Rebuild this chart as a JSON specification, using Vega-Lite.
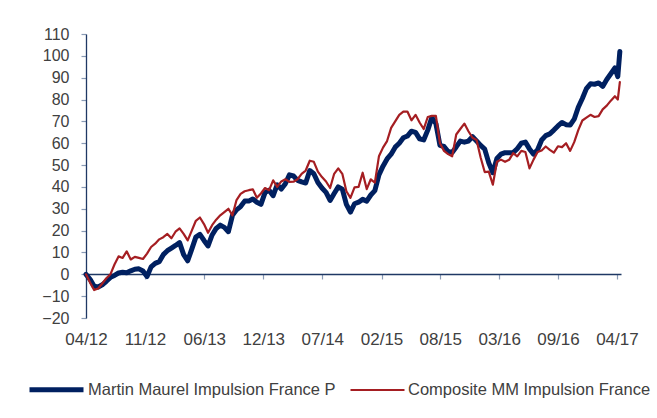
{
  "$schema": "https://vega.github.io/schema/vega-lite/v6.json",
  "width": 535,
  "height": 284,
  "autosize": "none",
  "padding": {"left": 86, "top": 34, "right": 36, "bottom": 100},
  "background": "white",
  "config": {"view": {"stroke": null}, "font": "Liberation Sans"},
  "data": {"values": [
    {"date":"2012-04-20","P":0,"C":0},
    {"date":"2012-05-04","P":-2.3,"C":-3.8},
    {"date":"2012-05-18","P":-5.5,"C":-7.2},
    {"date":"2012-06-01","P":-5.8,"C":-6.5},
    {"date":"2012-06-15","P":-4.8,"C":-4.2},
    {"date":"2012-06-29","P":-3.2,"C":-1.8},
    {"date":"2012-07-13","P":-1.4,"C":0},
    {"date":"2012-07-27","P":-0.5,"C":4.5},
    {"date":"2012-08-10","P":0.6,"C":8.2},
    {"date":"2012-08-24","P":0.9,"C":7.5},
    {"date":"2012-09-07","P":0.7,"C":10.5},
    {"date":"2012-09-21","P":1.6,"C":6.8},
    {"date":"2012-10-05","P":2.3,"C":8.0},
    {"date":"2012-10-19","P":2.5,"C":7.5},
    {"date":"2012-11-02","P":1.5,"C":7.0},
    {"date":"2012-11-16","P":-1.0,"C":9.5},
    {"date":"2012-11-30","P":3.4,"C":12.5},
    {"date":"2012-12-14","P":5,"C":14},
    {"date":"2012-12-28","P":5.8,"C":16},
    {"date":"2013-01-11","P":9,"C":17},
    {"date":"2013-01-25","P":10.8,"C":18.5},
    {"date":"2013-02-08","P":12,"C":16.5},
    {"date":"2013-02-22","P":13.2,"C":19.5},
    {"date":"2013-03-08","P":14.5,"C":21},
    {"date":"2013-03-22","P":9,"C":18.5},
    {"date":"2013-04-05","P":6.2,"C":15.5},
    {"date":"2013-04-19","P":11.5,"C":20},
    {"date":"2013-05-03","P":17,"C":24.5},
    {"date":"2013-05-17","P":18.3,"C":26},
    {"date":"2013-05-31","P":15.5,"C":23},
    {"date":"2013-06-14","P":13,"C":19},
    {"date":"2013-06-28","P":18,"C":22.5},
    {"date":"2013-07-12","P":21,"C":25},
    {"date":"2013-07-26","P":22.5,"C":27},
    {"date":"2013-08-09","P":21.5,"C":28.5},
    {"date":"2013-08-23","P":19.5,"C":30},
    {"date":"2013-09-06","P":27,"C":27},
    {"date":"2013-09-20","P":29.5,"C":34},
    {"date":"2013-10-04","P":31,"C":36.8},
    {"date":"2013-10-18","P":33.5,"C":38},
    {"date":"2013-11-01","P":33.5,"C":38.5},
    {"date":"2013-11-15","P":34.5,"C":38.9},
    {"date":"2013-11-29","P":33,"C":35},
    {"date":"2013-12-13","P":32,"C":37},
    {"date":"2013-12-27","P":37.4,"C":39.5},
    {"date":"2014-01-10","P":38.5,"C":38.5},
    {"date":"2014-01-24","P":36,"C":43},
    {"date":"2014-02-07","P":41,"C":40},
    {"date":"2014-02-21","P":39,"C":42.5},
    {"date":"2014-03-07","P":41.5,"C":43.5},
    {"date":"2014-03-21","P":45.5,"C":42.3},
    {"date":"2014-04-04","P":45,"C":42.4},
    {"date":"2014-04-18","P":43,"C":43.5},
    {"date":"2014-05-02","P":42.3,"C":46},
    {"date":"2014-05-16","P":41.8,"C":47.5},
    {"date":"2014-05-30","P":47.5,"C":52},
    {"date":"2014-06-13","P":46,"C":51.5},
    {"date":"2014-06-27","P":42,"C":47},
    {"date":"2014-07-11","P":39.5,"C":44.5},
    {"date":"2014-07-25","P":37.5,"C":42.5},
    {"date":"2014-08-08","P":33.8,"C":39.5},
    {"date":"2014-08-22","P":37,"C":46},
    {"date":"2014-09-05","P":40,"C":48.5},
    {"date":"2014-09-19","P":39,"C":46},
    {"date":"2014-10-03","P":32,"C":38},
    {"date":"2014-10-17","P":28.5,"C":35},
    {"date":"2014-10-31","P":32.3,"C":39.8},
    {"date":"2014-11-14","P":33,"C":40},
    {"date":"2014-11-28","P":34.3,"C":46.5},
    {"date":"2014-12-12","P":33.5,"C":39},
    {"date":"2014-12-26","P":36.3,"C":43.5},
    {"date":"2015-01-09","P":38.3,"C":42},
    {"date":"2015-01-23","P":45.5,"C":54},
    {"date":"2015-02-06","P":49.5,"C":58},
    {"date":"2015-02-20","P":52.8,"C":61},
    {"date":"2015-03-06","P":55,"C":67},
    {"date":"2015-03-20","P":58.2,"C":70},
    {"date":"2015-04-03","P":60,"C":73},
    {"date":"2015-04-17","P":62.5,"C":74.5},
    {"date":"2015-05-01","P":63.3,"C":74.5},
    {"date":"2015-05-15","P":65.5,"C":70.5},
    {"date":"2015-05-29","P":65,"C":73},
    {"date":"2015-06-12","P":62,"C":69.5},
    {"date":"2015-06-26","P":61.5,"C":66.5},
    {"date":"2015-07-10","P":66,"C":72},
    {"date":"2015-07-24","P":71.8,"C":72.5},
    {"date":"2015-08-07","P":69,"C":72.5},
    {"date":"2015-08-21","P":59,"C":60},
    {"date":"2015-09-04","P":58.5,"C":56.5},
    {"date":"2015-09-18","P":56.2,"C":55},
    {"date":"2015-10-02","P":55.8,"C":54},
    {"date":"2015-10-16","P":58.3,"C":64},
    {"date":"2015-10-30","P":61,"C":66.5},
    {"date":"2015-11-13","P":60.5,"C":69},
    {"date":"2015-11-27","P":61,"C":65.5},
    {"date":"2015-12-11","P":63,"C":62.5},
    {"date":"2015-12-25","P":61,"C":61.5},
    {"date":"2016-01-08","P":59,"C":53.5},
    {"date":"2016-01-22","P":57.3,"C":46.8},
    {"date":"2016-02-05","P":51,"C":47},
    {"date":"2016-02-19","P":46.5,"C":41},
    {"date":"2016-03-04","P":53,"C":51.5},
    {"date":"2016-03-18","P":55,"C":52.5},
    {"date":"2016-04-01","P":55.7,"C":51.5},
    {"date":"2016-04-15","P":55.7,"C":52.4},
    {"date":"2016-04-29","P":55.7,"C":55.5},
    {"date":"2016-05-13","P":57.5,"C":54},
    {"date":"2016-05-27","P":60,"C":56.5},
    {"date":"2016-06-10","P":60.5,"C":56},
    {"date":"2016-06-24","P":57.4,"C":48.5},
    {"date":"2016-07-08","P":55,"C":52.5},
    {"date":"2016-07-22","P":57,"C":56},
    {"date":"2016-08-05","P":61.5,"C":56.7},
    {"date":"2016-08-19","P":63.5,"C":58.5},
    {"date":"2016-09-02","P":64.3,"C":57},
    {"date":"2016-09-16","P":66,"C":55.7},
    {"date":"2016-09-30","P":67.9,"C":58.6},
    {"date":"2016-10-14","P":69.5,"C":58.2},
    {"date":"2016-10-28","P":68.5,"C":60},
    {"date":"2016-11-11","P":68.3,"C":56.5},
    {"date":"2016-11-25","P":71,"C":60.5},
    {"date":"2016-12-09","P":76.5,"C":66},
    {"date":"2016-12-23","P":80.5,"C":70.4},
    {"date":"2017-01-06","P":85,"C":71.7},
    {"date":"2017-01-20","P":87.2,"C":73},
    {"date":"2017-02-03","P":87,"C":72},
    {"date":"2017-02-17","P":87.6,"C":72.4},
    {"date":"2017-03-03","P":86,"C":75.5},
    {"date":"2017-03-17","P":89.2,"C":77.2},
    {"date":"2017-03-31","P":91.8,"C":79.5},
    {"date":"2017-04-14","P":94.5,"C":81.5},
    {"date":"2017-04-24","P":90.5,"C":80},
    {"date":"2017-05-01","P":102,"C":88}
  ]},
  "transform": [{"fold": ["P", "C"], "as": ["series", "value"]}],
  "mark": {"type": "line", "strokeJoin": "round", "strokeCap": "round"},
  "encoding": {
    "x": {
      "field": "date", "type": "temporal",
      "scale": {"type": "utc", "domain": [{"year": 2012, "month": 4, "date": 20, "utc": true}, {"year": 2017, "month": 5, "date": 5, "utc": true}]},
      "axis": {
        "title": null,
        "labelExpr": "utcFormat(datum.value, '%m/%y')",
        "values": [
          {"year": 2012, "month": 4, "date": 20, "utc": true},
          {"year": 2012, "month": 11, "date": 9, "utc": true},
          {"year": 2013, "month": 6, "date": 1, "utc": true},
          {"year": 2013, "month": 12, "date": 21, "utc": true},
          {"year": 2014, "month": 7, "date": 12, "utc": true},
          {"year": 2015, "month": 2, "date": 1, "utc": true},
          {"year": 2015, "month": 8, "date": 22, "utc": true},
          {"year": 2016, "month": 3, "date": 12, "utc": true},
          {"year": 2016, "month": 9, "date": 30, "utc": true},
          {"year": 2017, "month": 4, "date": 21, "utc": true}
        ],
        "offset": -44, "grid": false,
        "domainColor": "#1F3864", "domainWidth": 1.3,
        "tickColor": "#8A9BB5", "tickSize": 5, "tickWidth": 1.2,
        "labelFontSize": 17, "labelColor": "#404040", "labelPadding": 52,
        "labelFlush": false, "labelOverlap": false
      }
    },
    "y": {
      "field": "value", "type": "quantitative",
      "scale": {"domain": [-20, 110], "nice": false, "zero": false},
      "axis": {
        "title": null, "grid": false,
        "values": [-20, -10, 0, 10, 20, 30, 40, 50, 60, 70, 80, 90, 100, 110],
        "domainColor": "#1F3864", "domainWidth": 1.3,
        "tickColor": "#8A9BB5", "tickSize": 5, "tickWidth": 1.2,
        "labelFontSize": 16, "labelColor": "#404040", "labelPadding": 12
      }
    },
    "color": {
      "field": "series", "type": "nominal",
      "scale": {"domain": ["P", "C"], "range": ["#002060", "#A51E22"]},
      "legend": {
        "title": null, "orient": "none", "direction": "horizontal",
        "legendX": -59, "legendY": 326,
        "symbolType": "stroke", "symbolSize": 2916,
        "labelFontSize": 16.5, "labelColor": "#404040", "labelLimit": 400,
        "labelOffset": 2, "columnPadding": 10,
        "labelExpr": "datum.label == 'P' ? 'Martin Maurel Impulsion France P' : 'Composite MM Impulsion France'"
      }
    },
    "strokeWidth": {
      "field": "series", "type": "nominal",
      "scale": {"domain": ["P", "C"], "range": [5, 2.2]}
    }
  }
}
